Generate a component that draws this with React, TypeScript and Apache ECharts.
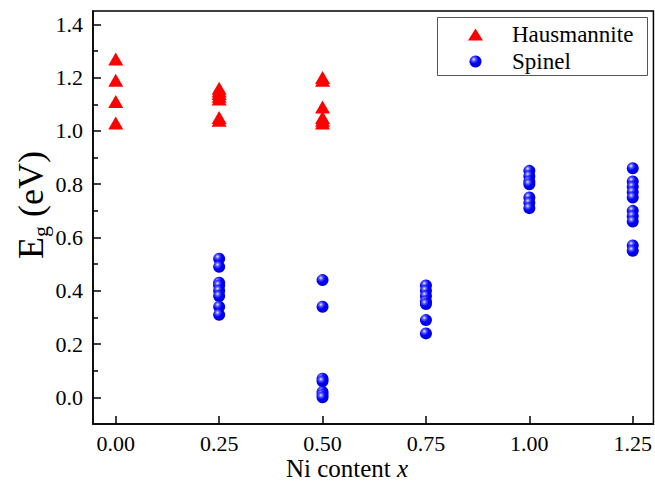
import React, { useEffect, useRef } from "react";
import * as echarts from "echarts";

const FONT = "Liberation Serif, Times New Roman, serif";

// Compositions (Ni content x)
const compositions = [0, 0.25, 0.5, 0.75, 1.0, 1.25];

// Band gaps (eV) read per composition
const hausmanniteValues = [
  [1.27, 1.19, 1.11, 1.03],
  [1.16, 1.15, 1.14, 1.13, 1.12, 1.05, 1.04],
  [1.2, 1.19, 1.09, 1.05, 1.04, 1.03],
  [],
  [],
  [],
];
const spinelValues = [
  [],
  [0.52, 0.49, 0.43, 0.42, 0.4, 0.38, 0.34, 0.31],
  [0.44, 0.34, 0.07, 0.06, 0.02, 0.01, 0.0],
  [0.42, 0.4, 0.38, 0.36, 0.35, 0.29, 0.24],
  [0.85, 0.83, 0.81, 0.8, 0.75, 0.73, 0.71],
  [0.86, 0.81, 0.79, 0.77, 0.75, 0.7, 0.68, 0.66, 0.57, 0.55],
];

// Tick labels
const xTicks = [0, 0.25, 0.5, 0.75, 1.0, 1.25];
const yMajorTicks = [0, 0.2, 0.4, 0.6, 0.8, 1.0, 1.2, 1.4];
const yMinorTicks = [0.1, 0.3, 0.5, 0.7, 0.9, 1.1, 1.3];

function toPairs(values: number[][]) {
  const out: number[][] = [];
  values.forEach((arr, i) => arr.forEach((v) => out.push([compositions[i], v])));
  return out;
}

export default function App() {
  const ref = useRef<HTMLDivElement>(null);
  useEffect(() => {
    document.body.style.margin = "0";
    const chart = echarts.init(ref.current!, null, { renderer: "svg" });
    const sphere = {
      type: "radial",
      x: 0.36,
      y: 0.32,
      r: 0.72,
      colorStops: [
        { offset: 0, color: "#f0f0ff" },
        { offset: 0.22, color: "#5a5aff" },
        { offset: 0.5, color: "#0000ff" },
        { offset: 1, color: "#0000cc" },
      ],
    };
    chart.setOption({
      animation: false,
      backgroundColor: "#ffffff",
      textStyle: { fontFamily: FONT },
      grid: {
        left: 93,
        right: 1,
        top: 11,
        bottom: 58,
        show: true,
        borderColor: "#000",
        borderWidth: 1.5,
        containLabel: false,
      },
      xAxis: {
        type: "value",
        min: -0.055,
        max: 1.3,
        splitLine: { show: false },
        axisLine: { show: true, onZero: false, lineStyle: { color: "#000", width: 1.5 } },
        axisTick: {
          show: true,
          inside: true,
          length: 8,
          customValues: xTicks,
          lineStyle: { color: "#000", width: 1.5 },
        },
        axisLabel: {
          customValues: xTicks,
          formatter: (v: number) => v.toFixed(2),
          fontFamily: FONT,
          fontSize: 22,
          color: "#000",
          margin: 8,
        },
      },
      yAxis: [
        {
          type: "value",
          min: -0.1,
          max: 1.45,
          position: "left",
          splitLine: { show: false },
          axisLine: { show: true, onZero: false, lineStyle: { color: "#000", width: 1.5 } },
          axisTick: {
            show: true,
            inside: true,
            length: 8,
            customValues: yMajorTicks,
            lineStyle: { color: "#000", width: 1.5 },
          },
          axisLabel: {
            customValues: yMajorTicks,
            formatter: (v: number) => v.toFixed(1),
            fontFamily: FONT,
            fontSize: 22,
            color: "#000",
            margin: 10,
          },
        },
        {
          type: "value",
          min: -0.1,
          max: 1.45,
          position: "left",
          offset: 0,
          splitLine: { show: false },
          axisLine: { show: false, onZero: false },
          axisLabel: { show: false },
          axisTick: {
            show: true,
            inside: true,
            length: 5,
            customValues: yMinorTicks,
            lineStyle: { color: "#000", width: 1.5 },
          },
        },
      ],
      legend: {
        orient: "vertical",
        left: 468,
        top: 23,
        padding: 0,
        itemWidth: 15,
        itemHeight: 12,
        itemGap: 4,
        textStyle: {
          fontFamily: FONT,
          fontSize: 23,
          color: "#000",
          lineHeight: 22,
          padding: [0, 0, 0, 24],
        },
        data: ["Hausmannite", "Spinel"],
      },
      graphic: [
        {
          type: "rect",
          shape: { x: 437.5, y: 17.5, width: 210, height: 58 },
          style: { fill: "none", stroke: "#555", lineWidth: 1 },
          z: 1,
        },
        {
          type: "text",
          x: 347,
          y: 468,
          style: {
            text: "{a|Ni content }{b|x}",
            align: "center",
            verticalAlign: "middle",
            rich: {
              a: { fontFamily: FONT, fontSize: 25, fill: "#000" },
              b: { fontFamily: FONT, fontSize: 25, fontStyle: "italic", fill: "#000" },
            },
          },
        },
        {
          type: "text",
          x: 31,
          y: 205,
          rotation: Math.PI / 2,
          style: {
            text: "{a|E}{b|g}{a| (eV)}",
            align: "center",
            verticalAlign: "middle",
            rich: {
              a: { fontFamily: FONT, fontSize: 36, fill: "#000", lineHeight: 40 },
              b: {
                fontFamily: FONT,
                fontSize: 22,
                fill: "#000",
                lineHeight: 22,
                verticalAlign: "bottom",
                padding: [20, 0, 0, 0],
              },
            },
          },
        },
      ],
      series: [
        {
          name: "Hausmannite",
          type: "scatter",
          symbol: "triangle",
          symbolSize: [15, 13],
          itemStyle: { color: "#ff0000", opacity: 1 },
          data: toPairs(hausmanniteValues),
        },
        {
          name: "Spinel",
          type: "scatter",
          symbol: "circle",
          symbolSize: 12,
          itemStyle: { color: sphere, opacity: 1 },
          data: toPairs(spinelValues),
        },
      ],
    });
    return () => chart.dispose();
  }, []);
  return <div ref={ref} style={{ width: 655, height: 482 }} />;
}
